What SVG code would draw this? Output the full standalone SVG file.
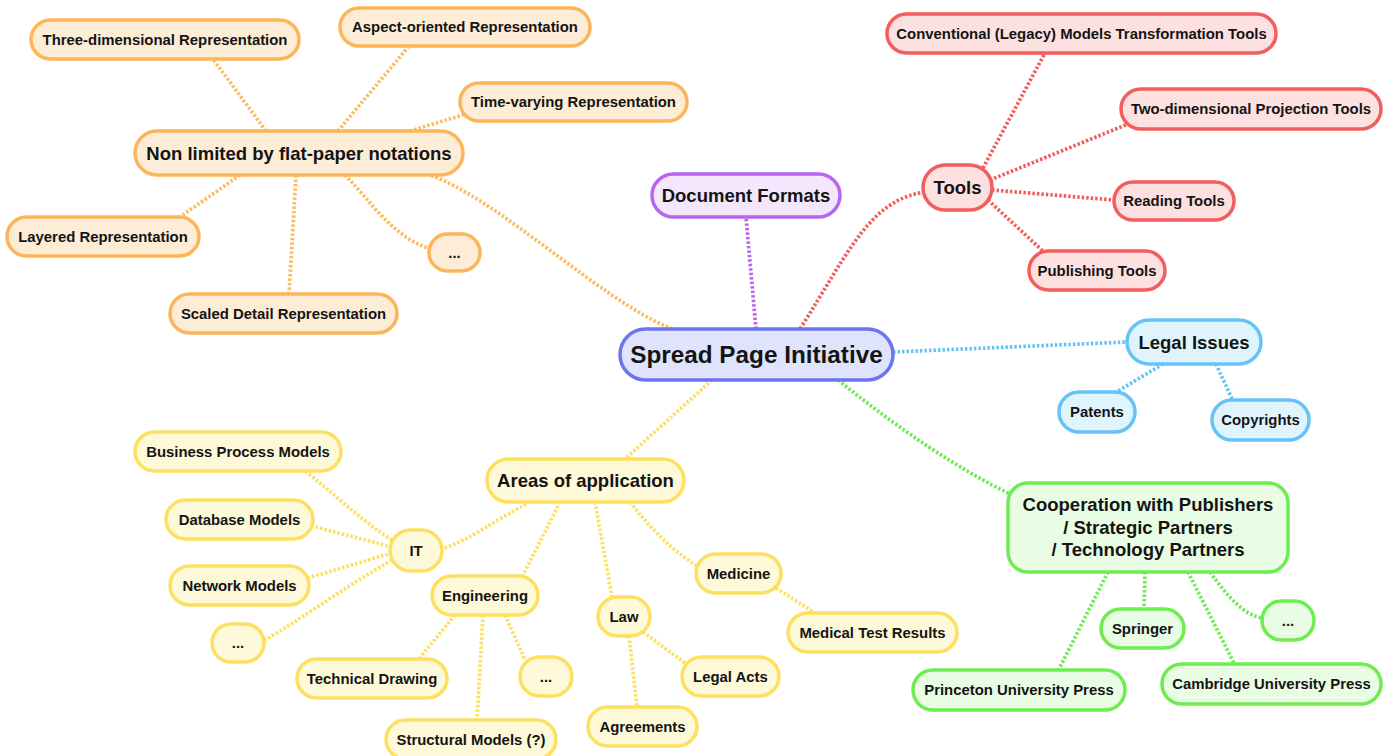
<svg xmlns="http://www.w3.org/2000/svg" width="1390" height="756" viewBox="0 0 1390 756">
<style>
  text { font-family: "Liberation Sans", Arial, sans-serif; font-weight: bold; fill: #141414; text-anchor: middle; }
  .s { font-size: 14.9px; }
  .m { font-size: 18.5px; }
  .l { font-size: 24.3px; }
  .n rect { stroke-width: 3.5; }
  .or rect { fill: #fdecd6; stroke: #fdb55a; }
  .rd rect { fill: #fde0e0; stroke: #f25e5e; }
  .pu rect { fill: #f3e6fd; stroke: #b865f2; }
  .ce rect { fill: #dfe3fb; stroke: #6c74f2; }
  .lb rect { fill: #e0f4fe; stroke: #66c3f7; }
  .gr rect { fill: #e9fde4; stroke: #6ded52; }
  .ye rect { fill: #fef9d8; stroke: #fde060; }
  #connectors path { fill: none; stroke-width: 3.7; stroke-dasharray: 2.5 2; }
  .c-or { stroke: #fdbb62; }
  .c-rd { stroke: #f25e5e; }
  .c-pu { stroke: #b865f2; }
  .c-lb { stroke: #66c3f7; }
  .c-gr { stroke: #6ded52; }
  .c-ye { stroke: #fde060; }
</style>
<rect width="1390" height="756" fill="#ffffff"/>
<g id="connectors">
  <path class="c-or" d="M 672 329 C 600 300, 500 200, 430 175"/>
  <path class="c-pu" d="M 756 329 L 746 217"/>
  <path class="c-rd" d="M 800 329 C 850 250, 870 200, 925 192"/>
  <path class="c-lb" d="M 893 352 L 1127 342"/>
  <path class="c-gr" d="M 838 380 C 900 430, 960 470, 1012 495"/>
  <path class="c-ye" d="M 712 380 L 625 459"/>
  <path class="c-rd" d="M 983 168 L 1045 53"/>
  <path class="c-rd" d="M 990 180 L 1128 124"/>
  <path class="c-rd" d="M 992 190 L 1114 200"/>
  <path class="c-rd" d="M 988 200 L 1045 253"/>
  <path class="c-lb" d="M 1163 364 L 1113 394"/>
  <path class="c-lb" d="M 1216 364 L 1233 401"/>
  <path class="c-gr" d="M 1108 572 L 1058 671"/>
  <path class="c-gr" d="M 1145 572 L 1144 609"/>
  <path class="c-gr" d="M 1188 572 L 1235 665"/>
  <path class="c-gr" d="M 1210 572 C 1230 600, 1245 615, 1262 618"/>
  <path class="c-ye" d="M 530 502 C 495 520, 470 540, 442 549"/>
  <path class="c-ye" d="M 560 502 L 522 577"/>
  <path class="c-ye" d="M 595 502 L 612 597"/>
  <path class="c-ye" d="M 630 502 C 660 540, 680 555, 697 566"/>
  <path class="c-ye" d="M 776 588 L 815 613"/>
  <path class="c-ye" d="M 643 632 L 685 663"/>
  <path class="c-ye" d="M 629 636 L 637 707"/>
  <path class="c-ye" d="M 455 615 L 418 660"/>
  <path class="c-ye" d="M 483 615 L 477 720"/>
  <path class="c-ye" d="M 505 615 L 525 660"/>
  <path class="c-ye" d="M 392 540 C 360 520, 330 490, 305 471"/>
  <path class="c-ye" d="M 392 547 L 312 526"/>
  <path class="c-ye" d="M 392 553 L 308 578"/>
  <path class="c-ye" d="M 392 560 C 340 590, 300 620, 265 640"/>
  <path class="c-or" d="M 266 131 L 213 59"/>
  <path class="c-or" d="M 338 131 L 409 46"/>
  <path class="c-or" d="M 410 131 L 466 114"/>
  <path class="c-or" d="M 240 175 L 180 217"/>
  <path class="c-or" d="M 296 175 L 289 294"/>
  <path class="c-or" d="M 345 175 C 370 200, 390 235, 430 249"/>
</g>
<g id="center" class="n ce"><rect x="620" y="329" width="273" height="51" rx="25.5"/><text class="l" x="756.5" y="363">Spread Page Initiative</text></g>
<g id="docformats" class="n pu"><rect x="652" y="174" width="188" height="43" rx="21.5"/><text class="m" x="746" y="202">Document Formats</text></g>
<g id="tools" class="n rd"><rect x="923" y="165" width="69" height="45" rx="22.5"/><text class="m" x="957.5" y="194" style="font-size:18.5px">Tools</text></g>
<g id="conventional" class="n rd"><rect x="887" y="14" width="389" height="39" rx="19.5"/><text class="s" x="1081.5" y="38.8">Conventional (Legacy) Models Transformation Tools</text></g>
<g id="twodim" class="n rd"><rect x="1121" y="89" width="260" height="40" rx="20"/><text class="s" x="1251" y="114.3">Two-dimensional Projection Tools</text></g>
<g id="reading" class="n rd"><rect x="1114" y="182" width="120" height="38" rx="19"/><text class="s" x="1174" y="206.3">Reading Tools</text></g>
<g id="publishing" class="n rd"><rect x="1029" y="251" width="136" height="39" rx="19.5"/><text class="s" x="1097" y="275.8">Publishing Tools</text></g>
<g id="legal" class="n lb"><rect x="1127" y="320" width="134" height="44" rx="22"/><text class="m" x="1194" y="348.5">Legal Issues</text></g>
<g id="patents" class="n lb"><rect x="1059" y="392" width="76" height="40" rx="20"/><text class="s" x="1097" y="417.3">Patents</text></g>
<g id="copyrights" class="n lb"><rect x="1212" y="400" width="97" height="40" rx="20"/><text class="s" x="1260.5" y="425.3">Copyrights</text></g>
<g id="coop" class="n gr"><rect x="1008" y="483" width="280" height="89" rx="20"/><text class="m" x="1148" y="511">Cooperation with Publishers</text><text class="m" x="1148" y="533.5">/ Strategic Partners</text><text class="m" x="1148" y="556">/ Technology Partners</text></g>
<g id="springer" class="n gr"><rect x="1101" y="609" width="83" height="39" rx="19.5"/><text class="s" x="1142.5" y="633.8">Springer</text></g>
<g id="gdots" class="n gr"><rect x="1262" y="601" width="52" height="39" rx="19.5"/><text class="s" x="1288" y="625.8">...</text></g>
<g id="princeton" class="n gr"><rect x="913" y="670" width="212" height="40" rx="20"/><text class="s" x="1019" y="695.3">Princeton University Press</text></g>
<g id="cambridge" class="n gr"><rect x="1162" y="664" width="219" height="40" rx="20"/><text class="s" x="1271.5" y="689.3">Cambridge University Press</text></g>
<g id="areas" class="n ye"><rect x="487" y="459" width="197" height="43" rx="21.5"/><text class="m" x="585.5" y="487">Areas of application</text></g>
<g id="it" class="n ye"><rect x="390" y="530" width="52" height="41" rx="20.5"/><text class="s" x="416" y="555.8">IT</text></g>
<g id="engineering" class="n ye"><rect x="432" y="576" width="106" height="39" rx="19.5"/><text class="s" x="485" y="600.8">Engineering</text></g>
<g id="law" class="n ye"><rect x="598" y="597" width="52" height="39" rx="19.5"/><text class="s" x="624" y="621.8">Law</text></g>
<g id="medicine" class="n ye"><rect x="696" y="554" width="85" height="39" rx="19.5"/><text class="s" x="738.5" y="578.8">Medicine</text></g>
<g id="medtest" class="n ye"><rect x="788" y="613" width="169" height="39" rx="19.5"/><text class="s" x="872.5" y="637.8">Medical Test Results</text></g>
<g id="legalacts" class="n ye"><rect x="682" y="657" width="97" height="39" rx="19.5"/><text class="s" x="730.5" y="681.8">Legal Acts</text></g>
<g id="agreements" class="n ye"><rect x="588" y="707" width="109" height="39" rx="19.5"/><text class="s" x="642.5" y="731.8">Agreements</text></g>
<g id="techdraw" class="n ye"><rect x="297" y="659" width="150" height="39" rx="19.5"/><text class="s" x="372" y="683.8">Technical Drawing</text></g>
<g id="edots" class="n ye"><rect x="520" y="657" width="52" height="39" rx="19.5"/><text class="s" x="546" y="681.8">...</text></g>
<g id="structural" class="n ye"><rect x="386" y="720" width="170" height="39" rx="19.5"/><text class="s" x="471" y="744.8">Structural Models (?)</text></g>
<g id="business" class="n ye"><rect x="135" y="432" width="206" height="39" rx="19.5"/><text class="s" x="238" y="456.8">Business Process Models</text></g>
<g id="database" class="n ye"><rect x="166" y="500" width="147" height="39" rx="19.5"/><text class="s" x="239.5" y="524.8">Database Models</text></g>
<g id="network" class="n ye"><rect x="170" y="566" width="139" height="39" rx="19.5"/><text class="s" x="239.5" y="590.8">Network Models</text></g>
<g id="itdots" class="n ye"><rect x="212" y="624" width="52" height="38" rx="19"/><text class="s" x="238" y="648.3">...</text></g>
<g id="nonlimited" class="n or"><rect x="135" y="131" width="328" height="44" rx="22"/><text class="m" x="299" y="159.5">Non limited by flat-paper notations</text></g>
<g id="threed" class="n or"><rect x="31" y="20" width="268" height="39" rx="19.5"/><text class="s" x="165" y="44.8">Three-dimensional Representation</text></g>
<g id="aspect" class="n or"><rect x="340" y="8" width="250" height="38" rx="19"/><text class="s" x="465" y="32.3">Aspect-oriented Representation</text></g>
<g id="timevarying" class="n or"><rect x="460" y="83" width="227" height="38" rx="19"/><text class="s" x="573.5" y="107.3">Time-varying Representation</text></g>
<g id="layered" class="n or"><rect x="7" y="217" width="192" height="39" rx="19.5"/><text class="s" x="103" y="241.8">Layered Representation</text></g>
<g id="scaled" class="n or"><rect x="170" y="294" width="227" height="39" rx="19.5"/><text class="s" x="283.5" y="318.8">Scaled Detail Representation</text></g>
<g id="odots" class="n or"><rect x="429" y="234" width="51" height="37" rx="18.5"/><text class="s" x="454.5" y="257.8">...</text></g>
</svg>
